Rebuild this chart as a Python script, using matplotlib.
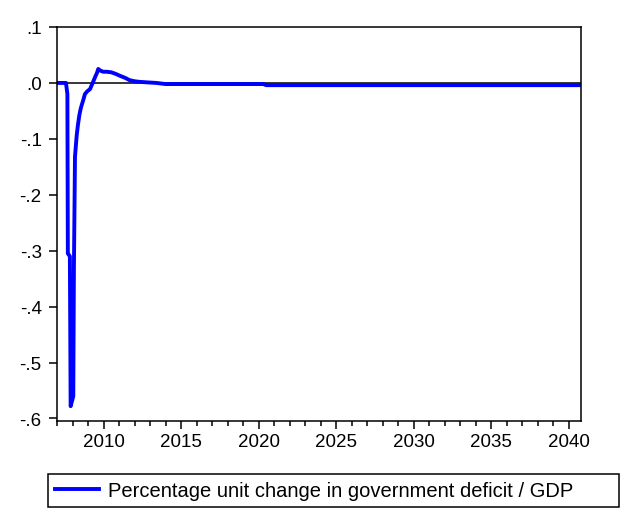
import matplotlib
matplotlib.use('Agg')
import matplotlib.pyplot as plt
from matplotlib.ticker import MultipleLocator, FuncFormatter

# approximate monthly path early on, sparse points once it settles
dates = [2007.0, 2007.5, 2007.58, 2007.67, 2007.7, 2007.83, 2007.88, 2008.05, 2008.09,
         2008.16, 2008.27, 2008.35, 2008.44, 2008.52, 2008.59, 2008.7, 2008.8, 2008.95,
         2009.13, 2009.3, 2009.45, 2009.58, 2009.66, 2009.8, 2009.98, 2010.2, 2010.5,
         2010.8, 2011.04, 2011.4, 2011.68, 2012.0, 2012.3, 2012.8, 2013.4, 2014.0,
         2020.3, 2020.5, 2040.75]
values = [0.0, 0.0, 0.0, -0.02, -0.305, -0.31, -0.578, -0.56, -0.335,
          -0.132, -0.094, -0.075, -0.058, -0.047, -0.04, -0.03, -0.02, -0.015,
          -0.011, 0.0, 0.01, 0.018, 0.025, 0.022, 0.02, 0.02, 0.019,
          0.016, 0.013, 0.009, 0.005, 0.003, 0.002, 0.001, 0.0, -0.002,
          -0.002, -0.004, -0.004]
label = 'Percentage unit change in government deficit / GDP'

plt.rcParams['font.family'] = ['Liberation Sans', 'DejaVu Sans']

fig = plt.figure(figsize=(6.22, 5.10), dpi=100)
ax = fig.add_axes([57/622, 1 - 422/510, (581 - 57)/622, (422 - 28)/510])

ax.axhline(0, color='black', lw=1.1, zorder=1)
ax.plot(dates, values, color='#0000ff', lw=2.8, label=label, zorder=2)

ax.set_xlim(2007.0, 2040.8)
ax.set_ylim(-0.6045, 0.1)

ax.xaxis.set_major_locator(MultipleLocator(5))
ax.xaxis.set_minor_locator(MultipleLocator(1))
ax.yaxis.set_major_locator(MultipleLocator(0.1))

def fmt(v, pos):
    s = f'{round(v, 1):.1f}'
    if s == '-0.0':
        s = '0.0'
    return s.replace('0.', '.')

ax.yaxis.set_major_formatter(FuncFormatter(fmt))
ax.tick_params(axis='both', which='major', length=6, width=1.1, labelsize=13.5, direction='out')
ax.tick_params(axis='x', which='minor', length=3.5, width=1.1, direction='out')
ax.tick_params(axis='y', pad=5)
ax.tick_params(axis='x', pad=3)
ax.tick_params(top=False, right=False)
for sp in ax.spines.values():
    sp.set_linewidth(1.1)

leg = fig.legend(loc='lower left', bbox_to_anchor=(48/622, 2/510, (619 - 48)/622, 36/510),
                 mode='expand', fontsize=14.5, handlelength=2.2, handletextpad=0.45,
                 borderpad=0.35, fancybox=False, framealpha=1, edgecolor='black',
                 borderaxespad=0)
leg.get_frame().set_linewidth(1.1)

fig.savefig('out.png', dpi=100)
